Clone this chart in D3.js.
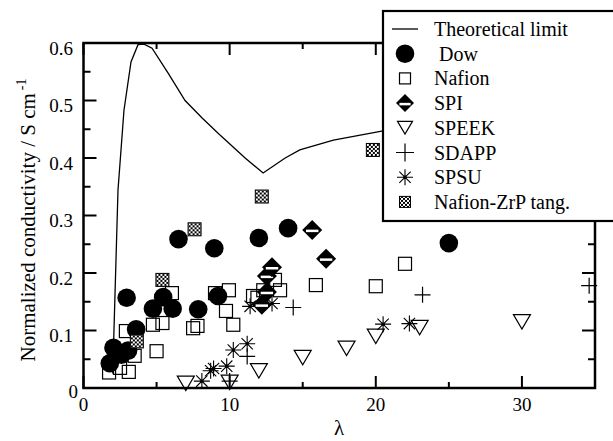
<!DOCTYPE html>
<html>
<head>
<meta charset="utf-8">
<script src="https://cdn.jsdelivr.net/npm/d3@7"></script>
<style>
  body { margin: 0; background: #fff; }
</style>
</head>
<body>
<div id="chart"></div>
<script>
// theoretical limit curve
var limitX = [2.0, 2.36, 2.77, 3.25, 3.73, 4.14, 4.69, 5.78, 6.95, 8.1, 9.21, 10.2, 11.06, 12.29, 13.8, 14.8, 17.1, 20.5, 24];
var limitY = [0.025, 0.344, 0.483, 0.567, 0.597, 0.598, 0.591, 0.548, 0.50, 0.47, 0.443, 0.42, 0.40, 0.374, 0.40, 0.414, 0.431, 0.447, 0.455];

// [lambda, conductivity]
var dow = [[1.8,0.043],[2.05,0.07],[2.6,0.058],[3.05,0.065],[3.6,0.102],[2.95,0.157],[4.75,0.138],[5.45,0.158],
  [6.1,0.138],[6.5,0.259],[7.85,0.137],[8.95,0.243],[9.2,0.16],[12.0,0.261],[14.0,0.278],[25.0,0.252]];
var nafion = [[1.75,0.027],[2.5,0.035],[3.1,0.028],[2.9,0.099],[3.5,0.056],[5.0,0.064],[4.75,0.11],[5.4,0.113],
  [6.05,0.165],[7.5,0.104],[7.8,0.108],[9.0,0.165],[9.95,0.17],[9.75,0.134],[10.25,0.11],[11.6,0.16],[11.9,0.157],
  [12.3,0.17],[13.1,0.188],[13.45,0.17],[15.9,0.179],[20.0,0.177],[22.0,0.216]];
var spi = [[12.2,0.145],[12.55,0.167],[12.55,0.195],[12.9,0.21],[15.65,0.275],[16.6,0.225]];
var speek = [[7.0,0.008],[10.0,0.01],[12.0,0.03],[15.0,0.053],[18.0,0.069],[20.0,0.09],[23.0,0.105],[30.0,0.115]];
var sdapp = [[10.0,0.012],[11.2,0.055],[14.35,0.14],[23.2,0.162],[34.6,0.178]];
var spsu = [[8.1,0.012],[8.7,0.03],[8.9,0.034],[9.8,0.038],[10.25,0.066],[11.2,0.077],[11.4,0.142],[12.9,0.147],[20.5,0.111],[22.3,0.112]];
var zrp = [[3.65,0.081],[5.4,0.188],[7.6,0.276],[12.2,0.333],[19.8,0.414]];

var legendNames = ["Theoretical limit", " Dow", "Nafion", "SPI", "SPEEK", "SDAPP", "SPSU", "Nafion-ZrP tang."];
var xTicks = [0, 10, 20, 30];
var yTicks = [0, 0.1, 0.2, 0.3, 0.4, 0.5, 0.6];

var width = 613, height = 441;
var svg = d3.select("#chart").append("svg")
    .attr("width", width)
    .attr("height", height)
    .attr("font-family", "'Liberation Serif', 'DejaVu Serif', serif");

var defs = svg.append("defs");
var pat = defs.append("pattern")
    .attr("id", "checker")
    .attr("patternUnits", "userSpaceOnUse")
    .attr("width", 4).attr("height", 4);
pat.append("rect").attr("width", 4).attr("height", 4).attr("fill", "#000");
pat.append("rect").attr("width", 2).attr("height", 2).attr("fill", "#fff");
pat.append("rect").attr("x", 2).attr("y", 2).attr("width", 2).attr("height", 2).attr("fill", "#fff");

var x = d3.scaleLinear().domain([0, 35]).range([83.5, 595]);
var y = d3.scaleLinear().domain([0, 0.6]).range([388, 43]);

// theoretical curve
var line = d3.line()
    .x(function(d) { return x(d[0]); })
    .y(function(d) { return y(d[1]); });
svg.append("path")
    .datum(d3.zip(limitX, limitY))
    .attr("d", line)
    .attr("fill", "none")
    .attr("stroke", "#000")
    .attr("stroke-width", 1.3);

// marker drawing helpers
function drawDow(g) {
  g.append("circle").attr("r", 9.3).attr("fill", "#000");
}
function drawSquare(g, s) {
  g.append("rect").attr("x", -s/2).attr("y", -s/2).attr("width", s).attr("height", s)
    .attr("fill", "none").attr("stroke", "#000").attr("stroke-width", 1.2);
}
function drawSpi(g, s) {
  g.append("path").attr("d", "M0," + (-s) + "L" + s + ",0L0," + s + "L" + (-s) + ",0Z").attr("fill", "#000");
  g.append("line").attr("x1", -s*0.62).attr("x2", s*0.62).attr("y1", 1).attr("y2", 1)
    .attr("stroke", "#fff").attr("stroke-width", 2.5);
}
function drawTri(g, w) {
  var h = w * 0.85;
  g.append("path").attr("d", "M" + (-w/2) + "," + (-h/2) + "L" + (w/2) + "," + (-h/2) + "L0," + (h/2) + "Z")
    .attr("fill", "none").attr("stroke", "#000").attr("stroke-width", 1.2);
}
function drawPlus(g, s) {
  g.append("path").attr("d", "M" + (-s) + ",0H" + s + "M0," + (-s) + "V" + s)
    .attr("stroke", "#000").attr("stroke-width", 1.2);
}
function drawStar(g, s) {
  var d = s * 0.7071;
  g.append("path").attr("d", "M" + (-s) + ",0H" + s + "M0," + (-s) + "V" + s +
      "M" + (-d) + "," + (-d) + "L" + d + "," + d + "M" + (-d) + "," + d + "L" + d + "," + (-d))
    .attr("stroke", "#000").attr("stroke-width", 1.1);
  g.append("circle").attr("r", 1.6).attr("fill", "#000");
}
function drawZrp(g, s) {
  g.append("rect").attr("x", -s/2).attr("y", -s/2).attr("width", s).attr("height", s)
    .attr("fill", "url(#checker)").attr("stroke", "#000").attr("stroke-width", 1);
}

function plotSeries(data, fn, arg) {
  svg.append("g").selectAll("g")
    .data(data)
    .enter().append("g")
      .attr("transform", function(d) { return "translate(" + x(d[0]) + "," + y(d[1]) + ")"; })
      .each(function() { fn(d3.select(this), arg); });
}

plotSeries(nafion, drawSquare, 13);
plotSeries(dow, drawDow);
plotSeries(speek, drawTri, 17);
plotSeries(sdapp, drawPlus, 8);
plotSeries(spsu, drawStar, 8);
plotSeries(spi, drawSpi, 10);
plotSeries(zrp, drawZrp, 13);

// frame
svg.append("rect")
    .attr("x", x(0)).attr("y", y(0.6))
    .attr("width", x(35) - x(0)).attr("height", y(0) - y(0.6))
    .attr("fill", "none").attr("stroke", "#000").attr("stroke-width", 2.5);

// ticks on all four sides, pointing inward
var xMajor = d3.range(0, 36, 10), xMinor = d3.range(5, 36, 10);
var yMajor = d3.range(0, 7).map(function(i) { return i / 10; });
var yMinor = d3.range(0, 6).map(function(i) { return i / 10 + 0.05; });
var ticks = svg.append("g").attr("stroke", "#000").attr("stroke-width", 2);
function tickX(v, len) {
  ticks.append("line").attr("x1", x(v)).attr("x2", x(v)).attr("y1", y(0)).attr("y2", y(0) - len);
  ticks.append("line").attr("x1", x(v)).attr("x2", x(v)).attr("y1", y(0.6)).attr("y2", y(0.6) + len);
}
function tickY(v, len) {
  ticks.append("line").attr("y1", y(v)).attr("y2", y(v)).attr("x1", x(0)).attr("x2", x(0) + len);
  ticks.append("line").attr("y1", y(v)).attr("y2", y(v)).attr("x1", x(35)).attr("x2", x(35) - len);
}
xMajor.forEach(function(v) { tickX(v, 12); });
xMinor.forEach(function(v) { tickX(v, 6); });
yMajor.forEach(function(v) { tickY(v, 13); });
yMinor.forEach(function(v) { tickY(v, 7); });

// tick labels
svg.append("g").selectAll("text")
  .data(xTicks).enter().append("text")
    .attr("x", function(d) { return x(d); })
    .attr("y", y(0) + 23)
    .attr("text-anchor", "middle")
    .attr("font-size", 19)
    .text(function(d) { return d; });
svg.append("g").selectAll("text")
  .data(yTicks).enter().append("text")
    .attr("x", function(d) { return d === 0 ? 78 : 73; })
    .attr("y", function(d) { return y(d) + (d === 0 ? 3 : 5); })
    .attr("dy", "0.35em")
    .attr("text-anchor", "end")
    .attr("font-size", 19)
    .text(function(d) { return d === 0 ? "0" : d3.format(".1f")(d); });

// axis titles
svg.append("text")
    .attr("x", 339).attr("y", 435)
    .attr("text-anchor", "middle")
    .attr("font-size", 21)
    .text("λ");
var yt = svg.append("text")
    .attr("transform", "translate(35,220) rotate(-90)")
    .attr("text-anchor", "middle")
    .attr("font-size", 21);
yt.append("tspan").text("Normalized conductivity / S cm");
yt.append("tspan").attr("dy", -9).attr("dx", 3).attr("font-size", 14).text("-1");

// legend
var lg = svg.append("g");
lg.append("rect")
    .attr("x", 383).attr("y", 11).attr("width", 240).attr("height", 210)
    .attr("fill", "#fff").attr("stroke", "#000").attr("stroke-width", 2.2);
var legendFns = [null, drawDow, drawSquare, drawSpi, drawTri, drawPlus, drawStar, drawZrp];
var legendArgs = [null, null, 11, 9, 15, 9, 8, 11];
legendNames.forEach(function(name, i) {
  var cy = 29 + i * 24.7;
  if (i === 0) {
    lg.append("line").attr("x1", 392).attr("x2", 418).attr("y1", cy).attr("y2", cy)
      .attr("stroke", "#000").attr("stroke-width", 1.3);
  } else {
    var g = lg.append("g").attr("transform", "translate(405," + cy + ")");
    legendFns[i](g, legendArgs[i]);
  }
  lg.append("text")
    .attr("x", 434).attr("y", cy)
    .attr("dy", "0.35em")
    .attr("font-size", 20)
    .style("white-space", "pre")
    .text(name);
});
</script>
</body>
</html>
